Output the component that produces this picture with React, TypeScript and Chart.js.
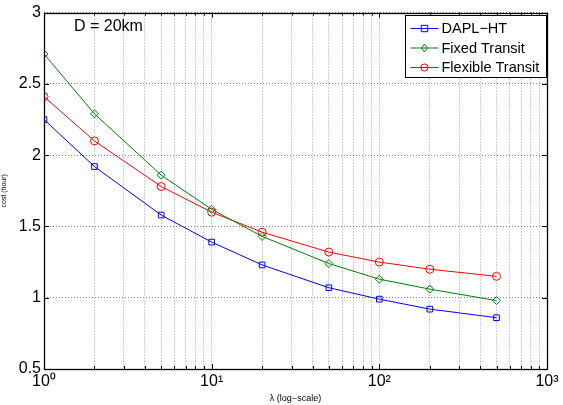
import React, { useEffect, useRef } from "react";
import { Chart, registerables } from "chart.js";

Chart.register(...registerables);

// ---- data ----
const lambdaValues = [1, 2, 5, 10, 20, 50, 100, 200, 500];
const daplHT = [2.25, 1.92, 1.58, 1.39, 1.23, 1.07, 0.99, 0.92, 0.86];
const fixedTransit = [2.71, 2.29, 1.86, 1.62, 1.43, 1.24, 1.13, 1.06, 0.98];
const flexibleTransit = [2.41, 2.1, 1.78, 1.6, 1.46, 1.32, 1.25, 1.2, 1.15];
const seriesNames = ["DAPL\u2212HT", "Fixed Transit", "Flexible Transit"];
const seriesColors = ["#0000ff", "#008000", "#ff0000"];
const seriesMarkers = ["rect", "rectRot", "circle"];

const xDecades = [1, 10, 100, 1000];
const xDecadeLabels = ["10\u2070", "10\u00b9", "10\u00b2", "10\u00b3"];
const yTickValues = [0.5, 1, 1.5, 2, 2.5, 3];
const yTickLabels = ["0.5", "1", "1.5", "2", "2.5", "3"];
const annotationText = "D = 20km";
const xTitle = "\u03bb (log\u2212scale)";
const yTitle = "cost (hour)";

const FONT = "'Liberation Sans', Arial, Helvetica, sans-serif";

function buildLogGrid(decades: number[]): number[] {
  const out: number[] = [];
  for (let i = 0; i < decades.length - 1; i++) {
    for (let k = 1; k < 10; k++) out.push(k * decades[i]);
  }
  out.push(decades[decades.length - 1]);
  return out;
}

const framePlugin = {
  id: "matlabFrame",
  afterDraw(chart: any) {
    const { ctx, chartArea: a, scales } = chart;
    const xs = scales.x;
    const ys = scales.y;
    ctx.save();
    ctx.strokeStyle = "#000";
    ctx.lineWidth = 1;
    ctx.setLineDash([]);
    ctx.beginPath();
    xs.ticks.forEach((t: any) => {
      const px = Math.round(xs.getPixelForValue(t.value)) + 0.5;
      const major = xDecades.includes(t.value);
      const len = major ? 5 : 3;
      ctx.moveTo(px, a.bottom);
      ctx.lineTo(px, a.bottom - len);
      ctx.moveTo(px, a.top);
      ctx.lineTo(px, a.top + len);
    });
    ys.ticks.forEach((t: any) => {
      const py = Math.round(ys.getPixelForValue(t.value)) + 0.5;
      ctx.moveTo(a.left, py);
      ctx.lineTo(a.left + 5, py);
      ctx.moveTo(a.right, py);
      ctx.lineTo(a.right - 5, py);
    });
    ctx.stroke();
    ctx.lineWidth = 1.3;
    ctx.strokeRect(
      Math.round(a.left) + 0.5,
      Math.round(a.top) + 0.5,
      Math.round(a.right - a.left),
      Math.round(a.bottom - a.top)
    );

    // annotation text
    ctx.fillStyle = "#000";
    ctx.font = `16px ${FONT}`;
    ctx.textBaseline = "middle";
    ctx.textAlign = "left";
    ctx.fillText(annotationText, a.left + 30, a.top + 14);

    // legend
    const lw = 141;
    const lh = 62;
    const lx = Math.round(a.right - lw - 1) + 0.5;
    const ly = Math.round(a.top + 2) + 0.5;
    ctx.fillStyle = "#fff";
    ctx.fillRect(lx, ly, lw, lh);
    ctx.strokeStyle = "#000";
    ctx.lineWidth = 1;
    ctx.strokeRect(lx, ly, lw, lh);
    ctx.font = `14.5px ${FONT}`;
    chart.data.datasets.forEach((ds: any, i: number) => {
      const cy = ly + 13 + i * 19.5;
      ctx.strokeStyle = ds.borderColor;
      ctx.lineWidth = 1;
      ctx.beginPath();
      ctx.moveTo(lx + 5, cy);
      ctx.lineTo(lx + 33, cy);
      ctx.stroke();
      const mx = lx + 19;
      const r = ds.pointRadius;
      ctx.beginPath();
      if (ds.pointStyle === "rect") {
        ctx.rect(mx - r * 0.8, cy - r * 0.8, r * 1.6, r * 1.6);
      } else if (ds.pointStyle === "rectRot") {
        ctx.moveTo(mx, cy - r);
        ctx.lineTo(mx + r * 0.75, cy);
        ctx.lineTo(mx, cy + r);
        ctx.lineTo(mx - r * 0.75, cy);
        ctx.closePath();
      } else {
        ctx.arc(mx, cy, r * 0.9, 0, Math.PI * 2);
      }
      ctx.stroke();
      ctx.fillStyle = "#000";
      ctx.fillText(ds.label, lx + 36, cy + 0.5);
    });
    ctx.restore();
  },
};

export default function App() {
  const canvasRef = useRef<HTMLCanvasElement | null>(null);

  useEffect(() => {
    const canvas = canvasRef.current;
    if (!canvas) return;
    const seriesValues = [daplHT, fixedTransit, flexibleTransit];
    const gridValues = buildLogGrid(xDecades);
    const chart = new Chart(canvas, {
      type: "line",
      data: {
        datasets: seriesValues.map((vals, i) => ({
          label: seriesNames[i],
          data: lambdaValues.map((x, j) => ({ x, y: vals[j] })),
          borderColor: seriesColors[i],
          backgroundColor: "rgba(0,0,0,0)",
          borderWidth: 1,
          pointStyle: seriesMarkers[i] as any,
          pointRadius: i === 2 ? 4 : 4,
          pointBorderWidth: 1,
          pointBackgroundColor: "rgba(0,0,0,0)",
          pointBorderColor: seriesColors[i],
          tension: 0,
          fill: false,
        })),
      },
      options: {
        responsive: false,
        animation: false,
        devicePixelRatio: 1,
        layout: { padding: { left: 0, top: 12, right: 16, bottom: 0 } },
        plugins: {
          legend: { display: false },
          tooltip: { enabled: false },
        },
        scales: {
          x: {
            type: "logarithmic",
            min: 1,
            max: 1000,
            afterBuildTicks: (scale: any) => {
              scale.ticks = gridValues.map((v) => ({ value: v }));
            },
            afterFit: (scale: any) => {
              scale.height = 36;
            },
            ticks: {
              autoSkip: false,
              maxRotation: 0,
              minRotation: 0,
              padding: 3,
              color: "#000",
              font: { family: FONT, size: 16 },
              callback: (value: any) => {
                const idx = xDecades.indexOf(Number(value));
                return idx >= 0 ? xDecadeLabels[idx] : "";
              },
            },
            grid: {
              color: "rgba(0,0,0,0.38)",
              lineWidth: 1,
              drawTicks: false,
            },
            border: { display: false, dash: [1, 2] },
            title: {
              display: true,
              text: xTitle,
              color: "#000",
              font: { family: FONT, size: 9 },
              padding: { top: 0, bottom: 1 },
            },
          },
          y: {
            type: "linear",
            min: 0.5,
            max: 3,
            afterBuildTicks: (scale: any) => {
              scale.ticks = yTickValues.map((v) => ({ value: v }));
            },
            afterFit: (scale: any) => {
              scale.width = 44;
            },
            ticks: {
              padding: 3,
              color: "#000",
              font: { family: FONT, size: 16 },
              callback: (value: any) => {
                const idx = yTickValues.indexOf(Number(value));
                return idx >= 0 ? yTickLabels[idx] : "";
              },
            },
            grid: {
              color: "rgba(0,0,0,0.5)",
              lineWidth: 1,
              drawTicks: false,
            },
            border: { display: false, dash: [1, 2] },
            title: {
              display: true,
              text: yTitle,
              color: "#000",
              font: { family: FONT, size: 7 },
              padding: { top: 0, bottom: 0 },
            },
          },
        },
      },
      plugins: [framePlugin],
    });
    return () => chart.destroy();
  }, []);

  return (
    <div style={{ position: "absolute", left: 0, top: 0, width: 563, height: 405, background: "#fff" }}>
      <canvas ref={canvasRef} width={563} height={405} style={{ display: "block" }} />
    </div>
  );
}
